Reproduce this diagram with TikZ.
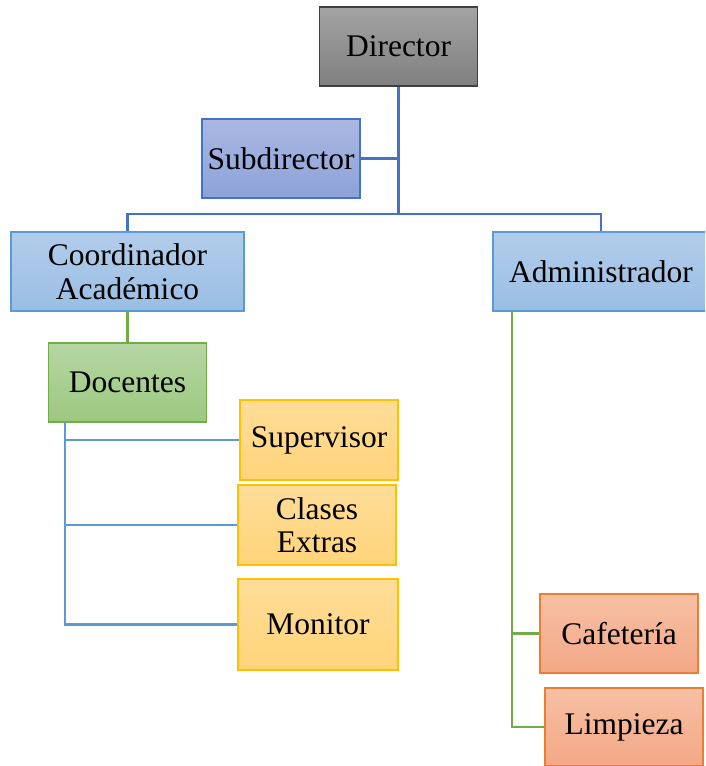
\documentclass[tikz,border=0pt]{standalone}
\usepackage{fontspec}
\setmainfont{Liberation Serif}
\usepackage{xcolor}
\usepackage{tikz}
\usetikzlibrary{positioning}

\definecolor{azul}{HTML}{4472C4}
\definecolor{celeste}{HTML}{5B9BD5}
\definecolor{verde}{HTML}{70AD47}
\definecolor{oro}{HTML}{FFC000}
\definecolor{naranja}{HTML}{ED7D31}

\tikzset{every picture/.style={x=1pt,y=-1pt},
  cargo/.style={rectangle, line width=1.3pt, minimum width=158pt, minimum height=79pt,
    inner sep=2pt, align=center, text=black, font=\fontsize{31.5}{33.5}\selectfont},
  gris/.style={cargo, draw=black!75, top color=black!36, bottom color=black!50},
  lila/.style={cargo, draw=azul, top color={rgb,255:red,170;green,184;blue,226}, bottom color={rgb,255:red,140;green,162;blue,216}},
  cielo/.style={cargo, draw=celeste, top color={rgb,255:red,178;green,205;blue,235}, bottom color={rgb,255:red,154;green,190;blue,228}},
  pasto/.style={cargo, draw=verde, top color={rgb,255:red,182;green,214;blue,164}, bottom color={rgb,255:red,156;green,200;blue,126}},
  yema/.style={cargo, draw=oro, top color={rgb,255:red,255;green,221;blue,152}, bottom color={rgb,255:red,255;green,212;blue,122}},
  salmon/.style={cargo, draw=naranja, top color={rgb,255:red,247;green,192;blue,164}, bottom color={rgb,255:red,243;green,168;blue,134}},
  linea/.style={line width=2.4pt}}

\begin{document}
\begin{tikzpicture}
  \useasboundingbox (0,0) rectangle (705,766);
  \clip (0,0) rectangle (705,766);

  \node[gris] (dir) at (398.5, 46.5) {Director};
  \node[lila] (sub) at (281, 158.5) {Subdirector};

  \node[cielo, minimum width=233pt] (coord) at (127.5, 271.5) {Coordinador\\Académico};
  \node[cielo, minimum width=216pt] (admin) at (601, 271.5) {Administrador};

  \node[pasto] (doc) at (127.5, 382.5) {Docentes};

  \node[yema, minimum height=80pt] (sup) at (319, 440) {Supervisor};
  \node[yema, minimum height=80pt] (clases) at (317, 525) {Clases\\Extras};
  \node[yema, minimum width=160pt, minimum height=91pt] (moni) at (318, 624.5) {Monitor};

  \node[salmon] (cafe) at (619, 633.5) {Cafetería};
  \node[salmon, minimum height=78pt] (limp) at (624, 727) {Limpieza};

  \coordinate (bar) at (398.5, 214);
  \coordinate (dtop) at (65, 422);
  \coordinate (atop) at (512, 311);

  \draw[linea, azul] (dir.south) -- (bar);
  \draw[linea, azul] (sub.east) -- (sub.east -| bar);
  \draw[linea, azul] (coord.north) |- (bar) -| (admin.north);
  \draw[linea, verde] (coord.south) -- (doc.north);

  \foreach \hijo in {sup, clases, moni}
    \draw[linea, celeste] (dtop) |- (\hijo.west);
  \foreach \hijo in {cafe, limp}
    \draw[linea, verde] (atop) |- (\hijo.west);
\end{tikzpicture}
\end{document}
